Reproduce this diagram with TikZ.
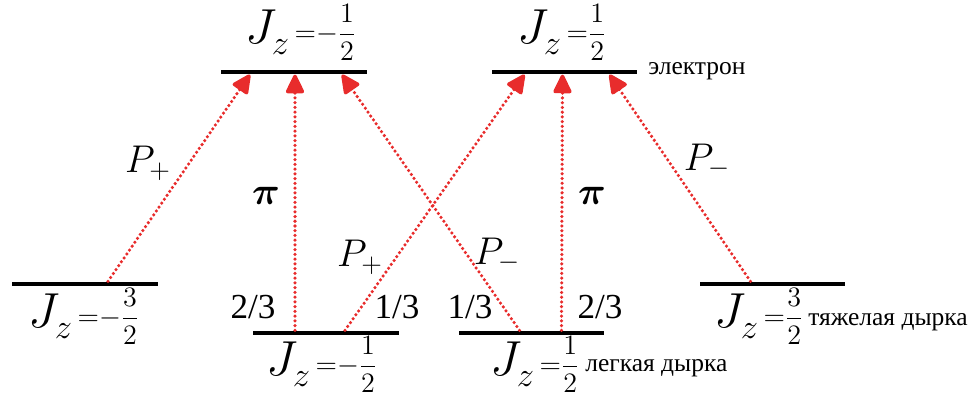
\RequirePackage{fix-cm}
\documentclass[tikz,border=0pt]{standalone}
\usepackage{amsmath,bm}
\usepackage{fontspec}
\setmainfont{Liberation Serif}
\usetikzlibrary{arrows.meta,positioning,calc}
\definecolor{transred}{RGB}{232,44,44}
% J_z = (sign) num/2
\newcommand\jzval[2]{$J_{\raisebox{-1.5pt}{$\scriptstyle z$}}$\raisebox{1.5pt}{\fontsize{16}{19}\selectfont$\,{=}{#1}\dfrac{#2}{2}$}}

\begin{document}
\begin{tikzpicture}[x=0.02cm,y=-0.02cm,
  level/.style={fill=black,inner sep=0,minimum width=2.92cm,minimum height=2.6pt},
  trans/.style={transred,line width=2pt,line cap=round,dash pattern=on 0pt off 2.7pt,
    -{Triangle[length=12pt,width=11pt,round=false]}},
  jlab/.style={font=\fontsize{28}{32}\selectfont,inner sep=0,anchor=base west},
  plab/.style={font=\fontsize{22}{26}\selectfont,inner sep=0},
  frac/.style={font=\fontsize{20}{24}\selectfont,inner sep=0},
  band/.style={font=\fontsize{14.5}{17}\selectfont,inner sep=0,anchor=base west}]
\useasboundingbox (0,0) rectangle (978,401);
% levels
\node[level] (el1) at (294,72) {};
\node[level] (el2) at (564.5,72) {};
\node[level] (hh1) at (85,284) {};
\node[level] (lh1) at (326,333) {};
\node[level] (lh2) at (531.5,333) {};
\node[level] (hh2) at (772.5,284) {};
% level labels
\node[jlab] (jel1) at (245,44) {\jzval{-}{1}};
\node[jlab] (jel2) at (517,44) {\jzval{}{1}};
\node[jlab] (jhh1) at (28,328) {\jzval{-}{3}};
\node[jlab] (jlh1) at (266,376) {\jzval{-}{1}};
\node[jlab] (jlh2) at (490,376) {\jzval{}{1}};
\node[jlab] (jhh2) at (714,328) {\jzval{}{3}};
\node[band] (tel) at (648,75) {электрон};
\node[band] (tlh) at (585,372) {легкая дырка};
\node[band] (thh) at (808,326) {тяжелая дырка};
% transitions
\draw[trans] ($(hh1.north)+(23,0)$) -- ($(el1.south)+(-44,0)$);
\draw[trans] ($(lh1.north)+(-31,0)$) -- ($(el1.south)+(1,0)$);
\draw[trans] ($(lh1.north)+(19,0)$) -- ($(el2.south)+(-40,0)$);
\draw[trans] ($(lh2.north)+(-12,0)$) -- ($(el1.south)+(48,0)$);
\draw[trans] ($(lh2.north)+(30,0)$) -- ($(el2.south)+(-2,0)$);
\draw[trans] ($(hh2.north)+(-22,0)$) -- ($(el2.south)+(45,0)$);
% polarisation labels
\node[plab] (p1) at (148,163) {$P_{+}$};
\node[plab] (pi1) at (266,196) {$\bm{\pi}$};
\node[plab] (p2) at (360,257) {$P_{+}$};
\node[plab] (p3) at (497,255) {$P_{-}$};
\node[plab] (pi2) at (592,196) {$\bm{\pi}$};
\node[plab] (p4) at (707,161) {$P_{-}$};
% weights
\node[frac] (w1) at (253,307) {2/3};
\node[frac] (w2) at (397,307) {1/3};
\node[frac] (w3) at (470,307) {1/3};
\node[frac] (w4) at (600,307) {2/3};
\end{tikzpicture}
\end{document}
